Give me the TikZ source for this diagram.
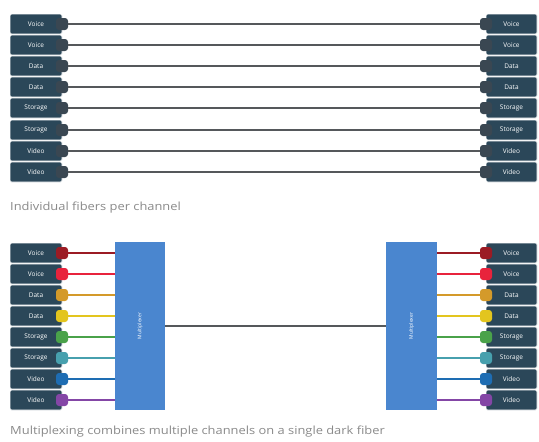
\documentclass[tikz,border=0pt]{standalone}
\usepackage{fontspec}
\setmainfont{Open Sans}
\definecolor{boxc}{HTML}{2B4759}
\definecolor{knobc}{HTML}{3A4752}
\definecolor{muxc}{HTML}{4A86CF}
\definecolor{linec}{HTML}{55585B}
\definecolor{capc}{HTML}{8A8A8A}
\definecolor{c1}{HTML}{9B1B24}
\definecolor{c2}{HTML}{E8233C}
\definecolor{c3}{HTML}{D49A2A}
\definecolor{c4}{HTML}{E3C51E}
\definecolor{c5}{HTML}{4AA24A}
\definecolor{c6}{HTML}{47A0AE}
\definecolor{c7}{HTML}{1E6DB3}
\definecolor{c8}{HTML}{8446A6}
\tikzset{
  chanbox/.style={fill=boxc, draw=white, line width=0.6pt, rounded corners=1.5pt, minimum height=20pt, inner sep=0pt, text=white, font=\fontsize{6.5}{7}\selectfont},
  lbox/.style={chanbox, minimum width=52pt},
  rbox/.style={chanbox, minimum width=51pt},
  knob/.style={rounded corners=3pt, minimum width=12pt, minimum height=12pt, inner sep=0pt},
  muxbox/.style={fill=muxc, minimum width=50pt, minimum height=168pt, inner sep=0pt},
  muxtext/.style={text=white, rotate=90, font=\fontsize{5}{6}\selectfont},
  caption/.style={text=capc, anchor=west, inner sep=0pt, xscale=1.15, font=\fontsize{11.2}{13}\selectfont},
  fiber/.style={line width=2pt},
}
\begin{document}
\begin{tikzpicture}[x=1pt,y=-1pt]
\useasboundingbox (0,0) rectangle (539,442);
\fill[white] (0,0) rectangle (539,442);
% top section
\foreach \i/\lab/\y in {1/Voice/24,2/Voice/45,3/Data/66,4/Data/87,5/Storage/108,6/Storage/130,7/Video/151,8/Video/172}{
  \node[lbox] (tl\i) at (36,\y) {\lab};
  \node[rbox] (tr\i) at (511.5,\y) {\lab};
  \node[knob, fill=knobc] (tkl\i) at (62,\y) {};
  \node[knob, fill=knobc] (tkr\i) at (486,\y) {};
  \draw[fiber, linec] (tkl\i.east) -- (tkr\i.west);
}
\node[caption] (cap1) at (10,208) {Individual fibers per channel};
% bottom section
\node[muxbox] (muxl) at (140,326) {};
\node[muxbox, minimum width=51pt] (muxr) at (411.5,326) {};
\node[muxtext] (muxlt) at (muxl.center) {Multiplexer};
\node[muxtext] (muxrt) at (muxr.center) {Multiplexer};
\draw[line width=1.5pt, linec] (muxl.east) -- (muxr.west);
\foreach \i/\lab/\y in {1/Voice/253,2/Voice/274,3/Data/295,4/Data/316,5/Storage/337,6/Storage/358,7/Video/379,8/Video/400}{
  \node[lbox] (bl\i) at (36,\y) {\lab};
  \node[rbox] (br\i) at (511.5,\y) {\lab};
  \node[knob, fill=c\i] (bkl\i) at (62,\y) {};
  \node[knob, fill=c\i] (bkr\i) at (486,\y) {};
  \coordinate (mlb\i) at (muxl.west |- bkl\i);
  \coordinate (mra\i) at (muxr.east |- bkr\i);
  \draw[fiber, c\i] (bkl\i.east) -- (mlb\i);
  \draw[fiber, c\i] (mra\i) -- (bkr\i.west);
}
\node[caption] (cap2) at (10,432) {Multiplexing combines multiple channels on a single dark fiber};
\end{tikzpicture}
\end{document}
